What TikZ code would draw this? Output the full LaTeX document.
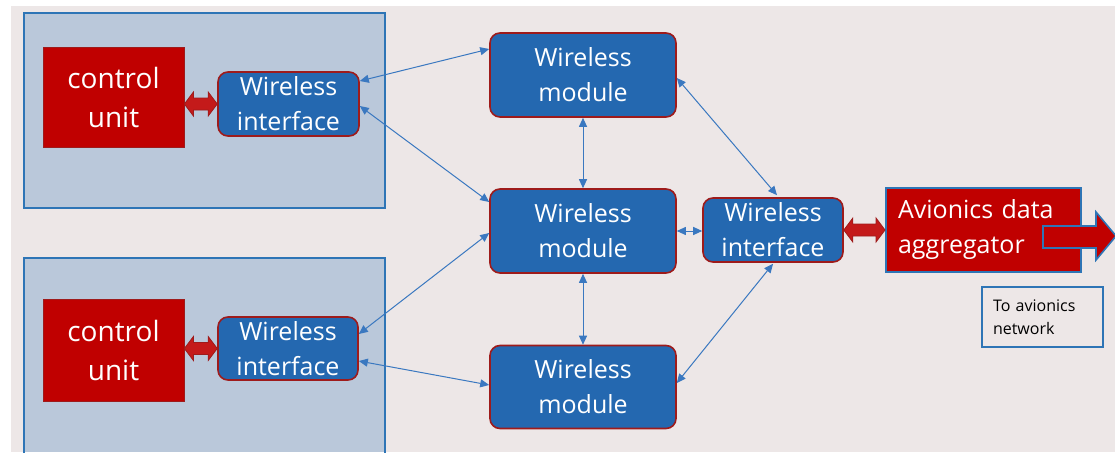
\documentclass[tikz,border=0pt]{standalone}
\usepackage{fontspec}
\setmainfont{Open Sans}
\usetikzlibrary{calc,arrows.meta}
\definecolor{bg}{HTML}{EDE7E7}
\definecolor{panel}{HTML}{BAC8DA}
\definecolor{pblue}{HTML}{2E75B6}
\definecolor{mblue}{HTML}{2468B0}
\definecolor{dred}{HTML}{9E1B1B}
\definecolor{cred}{HTML}{C00000}
\definecolor{arred}{HTML}{C41A1A}
\definecolor{lblue}{HTML}{3A78C0}
\newcommand\fatdbl[2]{%
  \path let \p1=(#1), \p2=(#2) in
    [fatarrow] (\x1,\y1) -- (\x1+9pt,\y1+12pt) -- (\x1+9pt,\y1+6pt) -- (\x2-9pt,\y1+6pt)
    -- (\x2-9pt,\y1+12pt) -- (\x2,\y1) -- (\x2-9pt,\y1-12pt) -- (\x2-9pt,\y1-6pt)
    -- (\x1+9pt,\y1-6pt) -- (\x1+9pt,\y1-12pt) -- cycle;}
\tikzset{
  panelbox/.style={draw=pblue, fill=panel, line width=2pt},
  cubox/.style={draw=dred, fill=cred, line width=0.8pt, text=white, align=center,
    font=\fontsize{28}{39}\selectfont, inner sep=0pt},
  modbox/.style={draw=dred, fill=mblue, line width=1.6pt, rounded corners=10pt, text=white,
    align=center, font=\fontsize{25}{35}\selectfont, inner sep=0pt},
  aggbox/.style={draw=pblue, fill=cred, line width=2pt, text=white, align=left,
    font=\fontsize{25}{35}\selectfont, inner xsep=12pt, inner ysep=0pt},
  notebox/.style={draw=pblue, line width=2pt, text=black, align=left,
    font=\fontsize{16}{23}\selectfont, inner xsep=11pt, inner ysep=0pt},
  link/.style={draw=lblue, line width=1pt,
    {Triangle[length=9pt,width=8pt]}-{Triangle[length=9pt,width=8pt]}},
  fatarrow/.style={draw=dred, fill=arred, line width=0.8pt, line join=miter},
  blockarrow/.style={draw=pblue, fill=cred, line width=1.6pt, line join=miter}
}
\begin{document}
\begin{tikzpicture}[x=1pt,y=-1pt]
\useasboundingbox (0,0) rectangle (1115,452);
\fill[white] (0,0) rectangle (1115,452);
\fill[bg] (11,6) rectangle (1115,452);
% panels
\node[panelbox, minimum width=361pt, minimum height=195pt] (p1) at (204.5,110.5) {};
\fill[panel] (24,258) rectangle (385,452);
\draw[pblue, line width=2pt] (24,454) |- (385,258) -- (385,454);
% control units
\node[cubox, minimum width=141pt, minimum height=100pt] (cu1) at (113.5,97) {control\\unit};
\node[cubox, minimum width=141pt, minimum height=102pt] (cu2) at (113.5,350.5) {control\\unit};
% wireless interfaces
\node[modbox, minimum width=141pt, minimum height=64pt] (wi1) at (288.5,104) {Wireless\\interface};
\node[modbox, minimum width=140pt, minimum height=63pt] (wi2) at (288,348.5) {Wireless\\interface};
\node[modbox, minimum width=140pt, minimum height=64pt] (wi3) at (773,230) {Wireless\\interface};
% wireless modules
\node[modbox, minimum width=186pt, minimum height=84pt] (wm1) at (583,75) {Wireless\\module};
\node[modbox, minimum width=186pt, minimum height=84pt] (wm2) at (583,231) {Wireless\\module};
\node[modbox, minimum width=186pt, minimum height=83pt] (wm3) at (583,387) {Wireless\\module};
% aggregator
\node[aggbox, minimum width=195pt, minimum height=84pt, text width=171pt] (agg) at (983.5,230) {Avionics data\\aggregator};
\node[notebox, minimum width=121pt, minimum height=60pt, text width=99pt] (note) at (1042.5,317) {To avionics\\network};
% block arrow out of aggregator
\path[blockarrow] ($(agg.east)+(-39,-4)$) -- ($(agg.east)+(14,-4)$) -- ($(agg.east)+(14,-18)$)
  -- ($(agg.east)+(34,6)$) -- ($(agg.east)+(14,30)$) -- ($(agg.east)+(14,18)$)
  -- ($(agg.east)+(-39,18)$) -- cycle;
% fat double arrows
\coordinate (f1a) at (cu1.east |- wi1.west);
\fatdbl{f1a}{wi1.west}
\coordinate (f2a) at (cu2.east |- wi2.west);
\fatdbl{f2a}{wi2.west}
\coordinate (f3b) at (agg.west |- wi3.east);
\fatdbl{wi3.east}{f3b}
% thin links
\draw[link] ([yshift=23pt]wi1.east) -- ([yshift=26pt]wm1.west);
\draw[link] ([yshift=-2pt]wi1.east) -- ([yshift=29pt]wm2.west);
\draw[link] ([yshift=14.5pt]wi2.east) -- ([yshift=-2pt]wm2.west);
\draw[link] ([yshift=-12.5pt]wi2.east) -- ([yshift=2pt]wm3.west);
\draw[link] (wm1.south) -- (wm2.north);
\draw[link] (wm2.south) -- (wm3.north);
\coordinate (w3l) at (wi3.west |- wm2.east);
\draw[link] (wm2.east) -- (w3l);
\draw[link] ([yshift=-3pt]wm1.east) -- ([xshift=4pt,yshift=2pt]wi3.north);
\draw[link] ([yshift=4pt]wm3.east) -- ([yshift=-1pt]wi3.south);
\end{tikzpicture}
\end{document}
